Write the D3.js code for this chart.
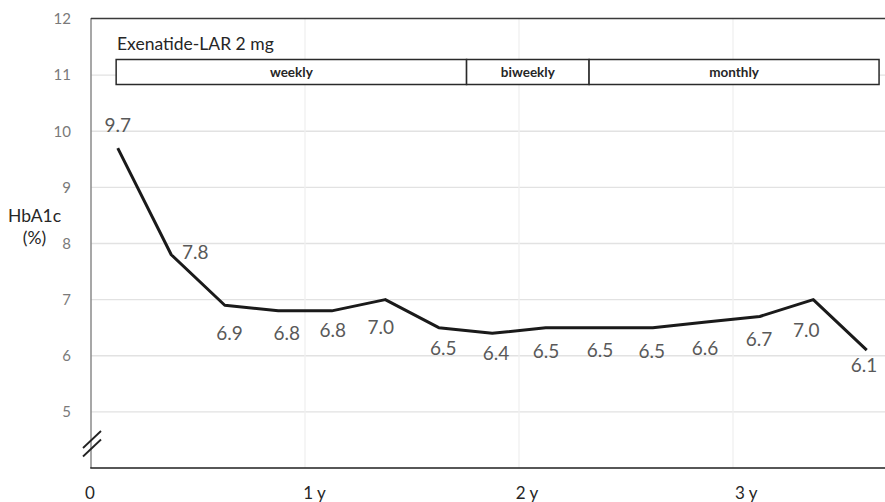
<!DOCTYPE html>
<html><head><meta charset="utf-8">
<script src="https://cdn.jsdelivr.net/npm/d3@7/dist/d3.min.js"></script>
<style>
body{margin:0;background:#fff}
svg{display:block;font-family:Lato,"Open Sans",sans-serif}
</style>
</head><body>
<svg id="chart" width="885" height="502"></svg>
<script>
// ---- data ----
const visitIndex = [0,1,2,3,4,5,6,7,8,9,10,11,12,13,14];
const hba1c = [9.7,7.8,6.9,6.8,6.8,7.0,6.5,6.4,6.5,6.5,6.5,6.6,6.7,7.0,6.1];
const yTicks = [5,6,7,8,9,10,11,12];
const xTickLabels = ["0","1 y","2 y","3 y"];
const xTickPos = [-0.53,3.67,7.64,11.74];
const yearGrid = [3.5,7.5,11.5];
const phaseNames = ["weekly","biweekly","monthly"];
const phaseStart = [-0.03,6.52,8.81];
const phaseEnd = [6.52,8.81,14.23];
const treatment = "Exenatide-LAR 2 mg";
// label nudges (layout only), px relative to point
const labelDx = [0,24,4.7,8.5,1,-4.5,4.6,3.8,0.3,0.8,-1,-1.2,-0.7,-7,-2.7];
const labelDy = [-15.8,4.7,35,29.3,26.6,34,27.5,26.2,30,29,30.8,33,30,37,22.3];

const svg = d3.select("#chart");
const L = 91, T = 18.5, B = 468, R = 885;
const x = d3.scaleLinear().domain([-0.5,14.5]).range([L,893.5]);
const y = d3.scaleLinear().domain([4,12]).range([B,19]);

// horizontal gridlines
svg.append("g").selectAll("line").data(yTicks.filter(v=>v<12)).join("line")
  .attr("x1",L).attr("x2",R).attr("y1",d=>y(d)).attr("y2",d=>y(d))
  .attr("stroke","#e2e2e2").attr("stroke-width",1.3);
// vertical gridlines
svg.append("g").selectAll("line").data(yearGrid).join("line")
  .attr("x1",d=>x(d)).attr("x2",d=>x(d)).attr("y1",T).attr("y2",B)
  .attr("stroke","#f0f0f0").attr("stroke-width",1.3);

// y axis labels
const ya = svg.append("g").attr("transform",`translate(${L},0)`)
  .call(d3.axisLeft(y).tickValues(yTicks).tickSize(0).tickPadding(20));
ya.select(".domain").remove();
ya.selectAll("text").attr("font-size",15).attr("fill","#7a7a7a").attr("font-family","Lato,'Open Sans',sans-serif");

// x axis labels
const xa = svg.append("g").attr("transform",`translate(0,${B})`)
  .call(d3.axisBottom(x).tickValues(xTickPos).tickFormat((d,i)=>xTickLabels[i]).tickSize(0).tickPadding(19));
xa.select(".domain").remove();
xa.selectAll("text").attr("font-size",17).attr("fill","#262626").attr("font-family","Lato,'Open Sans',sans-serif");

// frame
svg.append("line").attr("x1",L).attr("x2",L).attr("y1",T-0.5).attr("y2",B)
  .attr("stroke","#8a8a8a").attr("stroke-width",1.5);
svg.append("line").attr("x1",L).attr("x2",R).attr("y1",T).attr("y2",T)
  .attr("stroke","#3a3a3a").attr("stroke-width",1.3);
svg.append("line").attr("x1",L-0.75).attr("x2",R).attr("y1",B).attr("y2",B)
  .attr("stroke","#1f1f1f").attr("stroke-width",1.5);

// axis break mark
[0,8.5].forEach(o=>{
  svg.append("line").attr("x1",83).attr("y1",448+o).attr("x2",101).attr("y2",431+o)
    .attr("stroke","#222").attr("stroke-width",1.8);
});

// y title
const yt = svg.append("text").attr("text-anchor","middle").attr("font-size",17.5).attr("fill","#262626");
yt.append("tspan").attr("x",34.5).attr("y",222).text("HbA1c");
yt.append("tspan").attr("x",34.5).attr("y",244).text("(%)");

// treatment label
svg.append("text").attr("x",117).attr("y",50).attr("font-size",17.5).attr("fill","#262626").text(treatment);

// phase boxes
const ph = svg.append("g").selectAll("g").data(phaseNames).join("g");
ph.append("rect").attr("x",(d,i)=>x(phaseStart[i])).attr("width",(d,i)=>x(phaseEnd[i])-x(phaseStart[i]))
  .attr("y",59.5).attr("height",25).attr("fill","#fff").attr("stroke","#2a2a2a").attr("stroke-width",1.5);
ph.append("text").attr("x",(d,i)=>(x(phaseStart[i])+x(phaseEnd[i]))/2).attr("y",77)
  .attr("text-anchor","middle").attr("font-size",13.5).attr("font-weight","bold").attr("fill","#262626").text(d=>d);

// line
const line = d3.line().x((d,i)=>x(visitIndex[i])).y(d=>y(d));
svg.append("path").datum(hba1c).attr("d",line).attr("fill","none")
  .attr("stroke","#1a1a1a").attr("stroke-width",3).attr("stroke-linejoin","round");

// data labels
svg.append("g").selectAll("text").data(hba1c).join("text")
  .attr("x",(d,i)=>x(visitIndex[i])+labelDx[i]).attr("y",(d,i)=>y(d)+labelDy[i])
  .attr("text-anchor","middle").attr("font-size",19).attr("fill","#595959")
  .text(d=>d.toFixed(1));
</script>
</body></html>
